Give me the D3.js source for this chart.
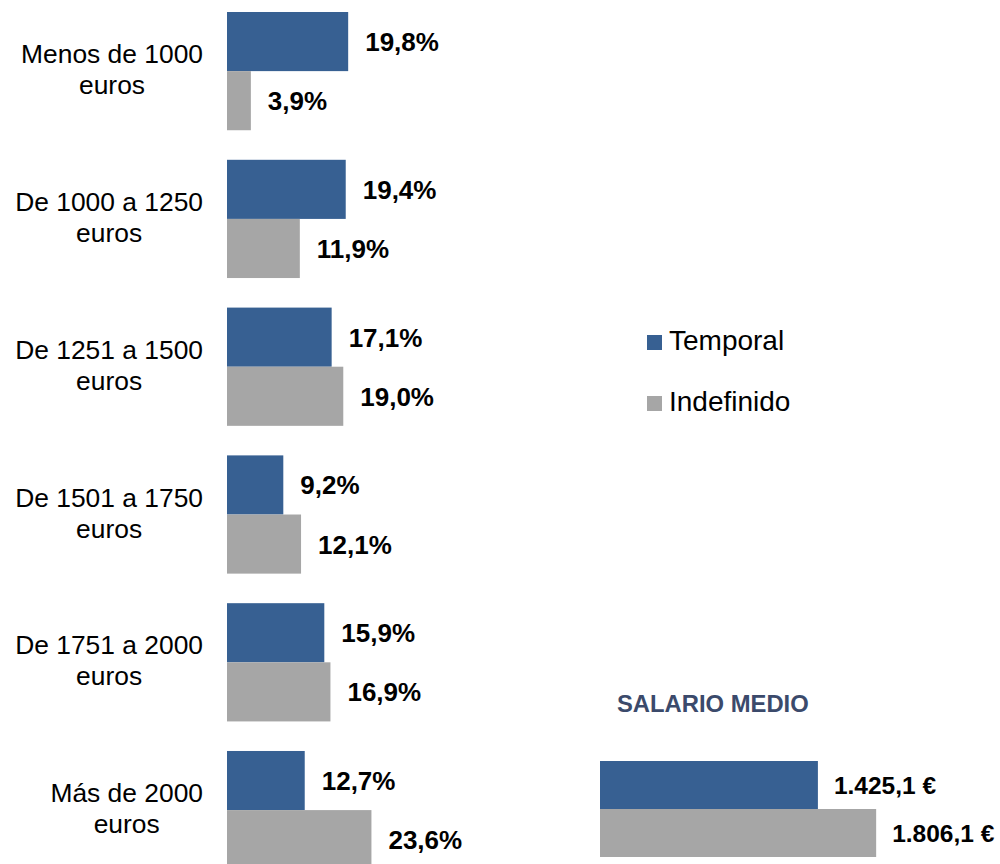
<!DOCTYPE html>
<html>
<head>
<meta charset="utf-8">
<script src="https://cdn.jsdelivr.net/npm/d3@7"></script>
<style>
  html, body { margin: 0; padding: 0; background: #fff; }
  svg { display: block; font-family: "Liberation Sans", Arial, sans-serif; }
</style>
</head>
<body>
<svg id="chart" width="1000" height="864"></svg>
<script>
// ---- Data ----
const categories = [
  ["Menos de 1000", "euros"],
  ["De 1000 a 1250", "euros"],
  ["De 1251 a 1500", "euros"],
  ["De 1501 a 1750", "euros"],
  ["De 1751 a 2000", "euros"],
  ["Más de 2000", "euros"]
];
const seriesNames = ["Temporal", "Indefinido"];
const temporal = [19.8, 19.4, 17.1, 9.2, 15.9, 12.7];
const indefinido = [3.9, 11.9, 19.0, 12.1, 16.9, 23.6];
const salarioTitle = "SALARIO MEDIO";
const salario = [1425.1, 1806.1];

const colors = { Temporal: "#376092", Indefinido: "#A6A6A6" };

const svg = d3.select("#chart");
const fmtPct = v => d3.format(".1f")(v).replace(".", ",") + "%";
const fmtEur = v => {
  const s = d3.format(",.1f")(v); // 1,425.1
  return s.replace(/,/g, "#").replace(".", ",").replace(/#/g, ".") + " €";
};

// ---- Left chart ----
const catIdx = categories.map((d, i) => i);
const y = d3.scaleBand().domain(catIdx).range([-2.78, 884]).paddingInner(0.2).paddingOuter(0.1);
const ySub = d3.scaleBand().domain(seriesNames).range([0, y.bandwidth()]);
const x = d3.scaleLinear().domain([0, 1]).range([227, 227 + 6.12]);

const rows = [];
catIdx.forEach(i => {
  rows.push({ i, s: "Temporal", v: temporal[i] });
  rows.push({ i, s: "Indefinido", v: indefinido[i] });
});

const g = svg.append("g");
g.selectAll("rect.bar").data(rows).join("rect")
  .attr("class", "bar")
  .attr("x", x(0))
  .attr("y", d => y(d.i) + ySub(d.s))
  .attr("width", d => x(d.v) - x(0))
  .attr("height", ySub.bandwidth())
  .attr("fill", d => colors[d.s]);

g.selectAll("text.val").data(rows).join("text")
  .attr("class", "val")
  .attr("x", d => x(d.v) + 17)
  .attr("y", d => y(d.i) + ySub(d.s) + ySub.bandwidth() / 2 + 9.5)
  .attr("font-size", 26)
  .attr("font-weight", "bold")
  .attr("fill", "#000")
  .text(d => fmtPct(d.v));

// Category labels: block right-aligned at x=203, lines centered within block
const labelRight = 203;
catIdx.forEach(i => {
  const cy = y(i) + y.bandwidth() / 2;
  const lines = categories[i];
  const tg = g.append("g");
  const texts = lines.map((ln, k) => tg.append("text")
    .attr("y", cy - 8 + k * 31)
    .attr("font-size", 26.4)
    .attr("fill", "#000")
    .attr("text-anchor", "middle")
    .text(ln));
  const maxW = d3.max(texts, t => t.node().getComputedTextLength());
  texts.forEach(t => t.attr("x", labelRight - maxW / 2));
});

// ---- Legend ----
const legend = svg.append("g");
const legendY = [335, 396];
seriesNames.forEach((s, k) => {
  legend.append("rect")
    .attr("x", 647).attr("y", legendY[k])
    .attr("width", 15).attr("height", 15)
    .attr("fill", colors[s]);
  legend.append("text")
    .attr("x", 669).attr("y", legendY[k] + 15)
    .attr("font-size", 28)
    .attr("fill", "#000")
    .text(s);
});

// ---- Salario medio ----
const r = svg.append("g");
r.append("text")
  .attr("x", 617).attr("y", 712)
  .attr("font-size", 23.8)
  .attr("font-weight", "bold")
  .attr("fill", "#3B4A6B")
  .text(salarioTitle);

const xs = d3.scaleLinear().domain([0, 1000]).range([600, 600 + 152.9]);
const ys = d3.scaleBand().domain(seriesNames).range([761, 857]);
const srows = seriesNames.map((s, k) => ({ s, v: salario[k] }));
r.selectAll("rect").data(srows).join("rect")
  .attr("x", xs(0))
  .attr("y", d => ys(d.s))
  .attr("width", d => xs(d.v) - xs(0))
  .attr("height", ys.bandwidth())
  .attr("fill", d => colors[d.s]);
r.selectAll("text.sv").data(srows).join("text")
  .attr("class", "sv")
  .attr("x", d => xs(d.v) + 16)
  .attr("y", d => ys(d.s) + ys.bandwidth() / 2 + 9)
  .attr("font-size", 24.5)
  .attr("font-weight", "bold")
  .attr("fill", "#000")
  .text(d => fmtEur(d.v));
</script>
</body>
</html>
